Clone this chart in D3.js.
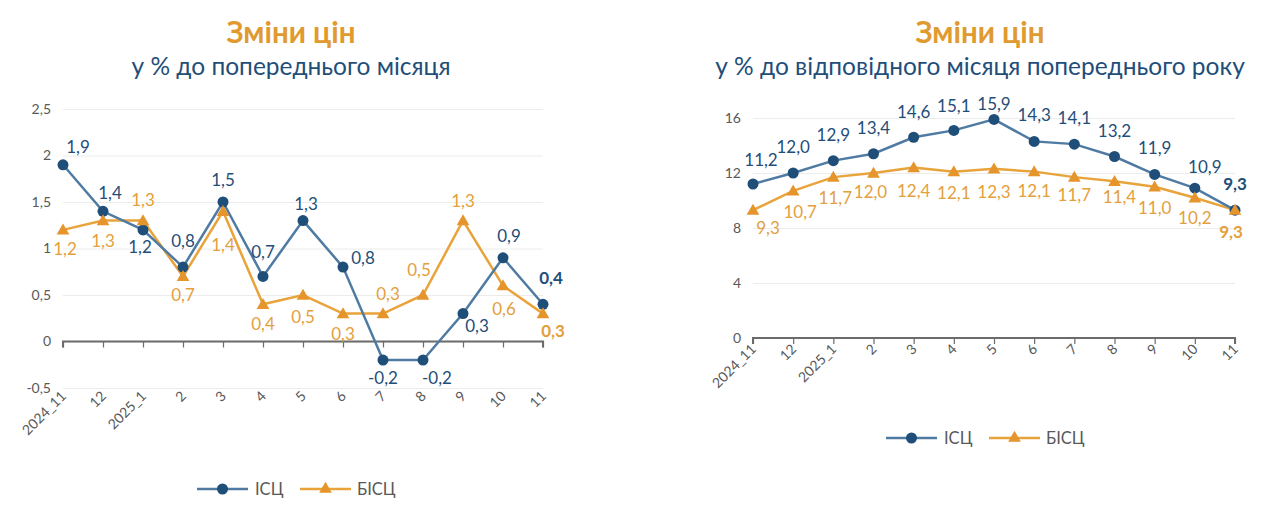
<!DOCTYPE html>
<html>
<head>
<meta charset="utf-8">
<script src="https://cdn.jsdelivr.net/npm/d3@7"></script>
<style>
  body { margin: 0; background: #fff; }
  svg { font-family: Lato, "Open Sans", sans-serif; }
</style>
</head>
<body>
<div id="chart"></div>
<script>
// data
var months = ["2024_11", "12", "2025_1", "2", "3", "4", "5", "6", "7", "8", "9", "10", "11"];

// month on month, %
var momCPI  = [1.9, 1.4, 1.2, 0.8, 1.5, 0.7, 1.3, 0.8, -0.2, -0.2, 0.3, 0.9, 0.4];
var momCore = [1.2, 1.3, 1.3, 0.7, 1.4, 0.4, 0.5, 0.3, 0.3, 0.5, 1.3, 0.6, 0.3];

// year on year, %
var yoyCPI  = [11.2, 12.0, 12.9, 13.4, 14.6, 15.1, 15.9, 14.3, 14.1, 13.2, 11.9, 10.9, 9.3];
var yoyCore = [9.3, 10.7, 11.7, 12.0, 12.4, 12.1, 12.3, 12.1, 11.7, 11.4, 11.0, 10.2, 9.3];

var momTicks = [-0.5, 0, 0.5, 1, 1.5, 2, 2.5];
var yoyTicks = [0, 4, 8, 12, 16];

var seriesNames = ["ІСЦ", "БІСЦ"];

// label offsets (layout only) [dx, dy] from the marker
var momCPIOff  = [[15,-18],[7,-18],[-3,17],[0,-26],[0,-22],[0,-24],[3,-17],[20,-9],[0,18],[14,18],[14,12],[6,-22],[8,-26]];
var momCoreOff = [[2,19],[0,20],[0,-21],[0,19],[0,34],[0,20],[0,22],[0,20],[5,-20],[-4,-25],[0,-20],[1,23],[10,17]];
var yoyCPIOff  = [[8,-24],[0,-26],[0,-26],[0,-26],[0,-25],[0,-24],[0,-15],[0,-26],[0,-26],[0,-25],[0,-26],[10,-21],[0,-26]];
var yoyCoreOff = [[15,18],[7,21],[2,21],[-3,19],[0,24],[0,21],[0,23],[0,19],[0,18],[5,16],[0,21],[0,20],[-4,22]];

var blueLine = "#4f7ba3", blueDot = "#1f4e79", blueText = "#1f4e79";
var orangeLine = "#e8a33b", orangeDot = "#e5952b", orangeText = "#e3a03c";
var axisText = "#595959";

var svg = d3.select("#chart").append("svg")
    .attr("width", 1274)
    .attr("height", 521);

function fmt(v, digits) {
    return d3.format(digits)(v).replace(".", ",").replace("−", "-");
}

function drawChart(cfg) {
    var g = svg.append("g");

    var x = d3.scalePoint()
        .domain(months)
        .range([cfg.x0, cfg.x1]);

    var y = d3.scaleLinear()
        .domain(cfg.domain)
        .range([cfg.yBottom, cfg.yTop]);

    // title
    g.append("text")
        .attr("x", cfg.cx).attr("y", 43)
        .attr("text-anchor", "middle")
        .attr("font-size", 29.5).attr("font-weight", "bold")
        .attr("fill", "#e09a2f")
        .text("Зміни цін");
    g.append("text")
        .attr("x", cfg.cx).attr("y", 75)
        .attr("text-anchor", "middle")
        .attr("font-size", 24.5)
        .attr("fill", "#1f4e79")
        .text(cfg.subtitle);

    // grid + y labels
    var yAxis = g.append("g")
        .attr("transform", "translate(" + cfg.x0 + ",0)")
        .call(d3.axisLeft(y)
            .tickValues(cfg.ticks)
            .tickSize(-(cfg.x1 - cfg.x0))
            .tickPadding(12)
            .tickFormat(function (d) { return fmt(d, cfg.tickFmt); }));
    yAxis.select(".domain").remove();
    yAxis.selectAll("line").attr("stroke", "#ececec");
    yAxis.selectAll("text")
        .attr("fill", axisText)
        .attr("font-size", 14)
        .attr("font-family", "Lato, sans-serif");

    // zero axis with ticks
    var zero = g.append("g")
        .attr("transform", "translate(0," + y(0) + ")")
        .call(d3.axisBottom(x).tickSize(6).tickFormat(""));
    zero.select(".domain").attr("stroke", "#6b6b6b").attr("stroke-width", 2)
        .attr("d", "M" + cfg.x0 + ",6V0H" + cfg.x1 + "V6");
    zero.selectAll("line").attr("stroke", "#6b6b6b").attr("stroke-width", 1.2);

    // month labels
    g.selectAll(".mlab")
        .data(months)
        .enter().append("text")
        .attr("class", "mlab")
        .attr("transform", function (d) {
            return "translate(" + (x(d) + 4) + "," + cfg.labelY + ") rotate(-45)";
        })
        .attr("text-anchor", "end")
        .attr("font-size", 14)
        .attr("fill", axisText)
        .text(function (d) { return d; });

    var line = d3.line()
        .x(function (d, i) { return x(months[i]); })
        .y(function (d) { return y(d); });

    // core series first so CPI draws on top
    g.append("path")
        .datum(cfg.core)
        .attr("d", line)
        .attr("fill", "none")
        .attr("stroke", orangeLine)
        .attr("stroke-width", 2.5);
    g.append("path")
        .datum(cfg.cpi)
        .attr("d", line)
        .attr("fill", "none")
        .attr("stroke", blueLine)
        .attr("stroke-width", 2.5);

    var tri = d3.symbol().type(d3.symbolTriangle).size(70);

    g.selectAll(".cdot")
        .data(cfg.cpi)
        .enter().append("circle")
        .attr("cx", function (d, i) { return x(months[i]); })
        .attr("cy", function (d) { return y(d); })
        .attr("r", 5.5)
        .attr("fill", blueDot);

    g.selectAll(".tri")
        .data(cfg.core)
        .enter().append("path")
        .attr("d", tri)
        .attr("transform", function (d, i) {
            return "translate(" + x(months[i]) + "," + (y(d) + 1) + ")";
        })
        .attr("fill", orangeDot);

    function labels(vals, offs, color) {
        g.selectAll(null)
            .data(vals)
            .enter().append("text")
            .attr("x", function (d, i) { return x(months[i]) + offs[i][0]; })
            .attr("y", function (d, i) { return y(d) + offs[i][1]; })
            .attr("dy", "0.35em")
            .attr("text-anchor", "middle")
            .attr("font-size", 17)
            .attr("font-weight", function (d, i) { return i === vals.length - 1 ? "bold" : "normal"; })
            .attr("fill", color)
            .text(function (d) { return fmt(d, ".1f"); });
    }
    labels(cfg.core, cfg.coreOff, orangeText);
    labels(cfg.cpi, cfg.cpiOff, blueText);

    // legend
    var lg = g.append("g").attr("transform", "translate(" + cfg.legendX + "," + cfg.legendY + ")");
    lg.append("line").attr("x1", 0).attr("x2", 51).attr("stroke", blueLine).attr("stroke-width", 2.5);
    lg.append("circle").attr("cx", 25.5).attr("r", 5.5).attr("fill", blueDot);
    lg.append("text").attr("x", 58).attr("dy", "0.35em").attr("font-size", 16.5).attr("fill", axisText).text(seriesNames[0]);
    lg.append("line").attr("x1", 103).attr("x2", 154).attr("stroke", orangeLine).attr("stroke-width", 2.5);
    lg.append("path").attr("d", tri).attr("transform", "translate(128.5,0)").attr("fill", orangeDot);
    lg.append("text").attr("x", 160).attr("dy", "0.35em").attr("font-size", 16.5).attr("fill", axisText).text(seriesNames[1]);
}

drawChart({
    cx: 291, subtitle: "у % до попереднього місяця",
    x0: 63, x1: 543, yTop: 109, yBottom: 388,
    domain: [-0.5, 2.5], ticks: momTicks, tickFmt: "",
    labelY: 397,
    cpi: momCPI, core: momCore, cpiOff: momCPIOff, coreOff: momCoreOff,
    legendX: 197, legendY: 489
});

drawChart({
    cx: 980, subtitle: "у % до відповідного місяця попереднього року",
    x0: 753, x1: 1235, yTop: 118, yBottom: 338,
    domain: [0, 16], ticks: yoyTicks, tickFmt: "",
    labelY: 350,
    cpi: yoyCPI, core: yoyCore, cpiOff: yoyCPIOff, coreOff: yoyCoreOff,
    legendX: 886, legendY: 438
});
</script>
</body>
</html>
